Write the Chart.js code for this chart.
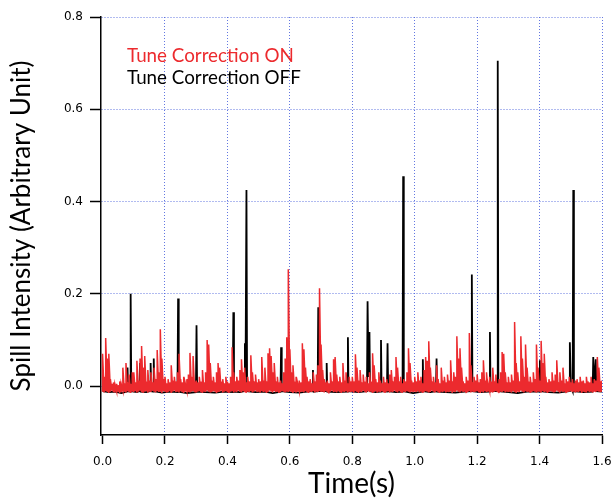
<!DOCTYPE html>
<html>
<head>
  <title>Spill Intensity</title>
  <script src="https://cdn.jsdelivr.net/npm/chart.js"></script>
  <style>
    html, body { margin: 0; padding: 0; background: #ffffff; }
  </style>
</head>
<body>
  <canvas id="spillChart" width="611" height="498"></canvas>

  <script>
    // tick labels
    const xTicks = [0, 0.2, 0.4, 0.6, 0.8, 1.0, 1.2, 1.4, 1.6];
    const yTicks = [0, 0.2, 0.4, 0.6, 0.8];
    const seriesLabels = ["Tune Correction ON", "Tune Correction OFF"];

    // Tune Correction ON: upper and lower envelope of the dense trace, every 0.005 s from 0.0 to 1.6
    const onStep = 0.005;
    const onHigh = [
      0.07, 0.02, 0.104, 0.06, 0.07, 0.015, 0.005, 0.008, 0.003, 0.005, 0.002, 0.01, 0.004, 0.04, 0.006, 0.05, 0.008, 0.025, 0.005, 0.03,
      0.03, 0.008, 0.055, 0.012, 0.06, 0.087, 0.04, 0.065, 0.01, 0.035, 0.012, 0.03, 0.008, 0.04, 0.015, 0.078, 0.03, 0.123, 0.06, 0.015,
      0.02, 0.006, 0.015, 0.008, 0.045, 0.012, 0.02, 0.01, 0.03, 0.07, 0.015, 0.008, 0.02, 0.006, 0.015, 0.025, 0.072, 0.02, 0.065, 0.01,
      0.012, 0.008, 0.02, 0.01, 0.035, 0.008, 0.03, 0.1, 0.09, 0.05, 0.012, 0.02, 0.008, 0.03, 0.05, 0.04, 0.01, 0.015, 0.006, 0.02,
      0.01, 0.006, 0.02, 0.084, 0.03, 0.01, 0.02, 0.012, 0.035, 0.058, 0.03, 0.04, 0.008, 0.02, 0.01, 0.067, 0.03, 0.01, 0.025, 0.008,
      0.015, 0.01, 0.063, 0.012, 0.04, 0.01, 0.071, 0.082, 0.065, 0.03, 0.05, 0.01, 0.02, 0.008, 0.012, 0.006, 0.03, 0.06, 0.106, 0.253,
      0.08, 0.03, 0.045, 0.01, 0.02, 0.006, 0.012, 0.008, 0.093, 0.08, 0.04, 0.02, 0.01, 0.015, 0.006, 0.03, 0.01, 0.025, 0.045, 0.212,
      0.09, 0.035, 0.015, 0.008, 0.012, 0.006, 0.03, 0.01, 0.058, 0.063, 0.025, 0.01, 0.02, 0.008, 0.05, 0.012, 0.03, 0.006, 0.02, 0.01,
      0.02, 0.01, 0.069, 0.04, 0.012, 0.035, 0.008, 0.025, 0.01, 0.02, 0.006, 0.03, 0.01, 0.071, 0.045, 0.015, 0.008, 0.03, 0.012, 0.006,
      0.02, 0.008, 0.015, 0.006, 0.025, 0.035, 0.01, 0.02, 0.063, 0.04, 0.01, 0.02, 0.006, 0.015, 0.01, 0.03, 0.082, 0.05, 0.012, 0.008,
      0.02, 0.01, 0.03, 0.012, 0.02, 0.006, 0.035, 0.063, 0.055, 0.097, 0.04, 0.01, 0.02, 0.008, 0.045, 0.015, 0.006, 0.04, 0.012, 0.02,
      0.008, 0.025, 0.012, 0.056, 0.01, 0.03, 0.02, 0.108, 0.06, 0.082, 0.04, 0.01, 0.006, 0.02, 0.012, 0.115, 0.045, 0.008, 0.02, 0.012,
      0.025, 0.008, 0.015, 0.03, 0.056, 0.012, 0.03, 0.006, 0.02, 0.01, 0.04, 0.01, 0.025, 0.006, 0.015, 0.03, 0.074, 0.07, 0.03, 0.008,
      0.02, 0.008, 0.025, 0.012, 0.139, 0.05, 0.03, 0.01, 0.108, 0.06, 0.02, 0.09, 0.04, 0.01, 0.02, 0.008, 0.03, 0.015, 0.09, 0.04,
      0.012, 0.098, 0.05, 0.07, 0.02, 0.008, 0.015, 0.01, 0.03, 0.012, 0.025, 0.056, 0.008, 0.03, 0.012, 0.04, 0.006, 0.015, 0.01, 0.02,
      0.008, 0.015, 0.006, 0.012, 0.015, 0.008, 0.02, 0.01, 0.012, 0.006, 0.02, 0.01, 0.008, 0.02, 0.006, 0.015, 0.012, 0.063, 0.04, 0.01,
      0.012
    ];
    const onLow = [
      -0.012, -0.014, -0.011, -0.013, -0.015, -0.012, -0.01, -0.013, -0.014, -0.011, -0.012, -0.015, -0.013, -0.01, -0.012, -0.014, -0.011, -0.013, -0.015, -0.012,
      -0.013, -0.011, -0.014, -0.012, -0.01, -0.013, -0.015, -0.012, -0.011, -0.014, -0.012, -0.013, -0.01, -0.012, -0.014, -0.011, -0.013, -0.012, -0.015, -0.011,
      -0.012, -0.014, -0.013, -0.011, -0.015, -0.012, -0.01, -0.013, -0.012, -0.014, -0.011, -0.013, -0.015, -0.012, -0.01, -0.013, -0.014, -0.012, -0.011, -0.013,
      -0.014, -0.012, -0.011, -0.013, -0.015, -0.012, -0.013, -0.01, -0.012, -0.014, -0.013, -0.011, -0.012, -0.015, -0.013, -0.012, -0.01, -0.014, -0.012, -0.011,
      -0.013, -0.015, -0.012, -0.011, -0.014, -0.012, -0.013, -0.01, -0.012, -0.014, -0.011, -0.013, -0.015, -0.012, -0.013, -0.011, -0.014, -0.012, -0.01, -0.013,
      -0.012, -0.014, -0.011, -0.013, -0.012, -0.015, -0.013, -0.01, -0.012, -0.014, -0.011, -0.013, -0.012, -0.015, -0.013, -0.011, -0.012, -0.014, -0.012, -0.013,
      -0.011, -0.013, -0.015, -0.012, -0.014, -0.012, -0.01, -0.013, -0.012, -0.014, -0.011, -0.013, -0.015, -0.012, -0.013, -0.011, -0.014, -0.012, -0.013, -0.011,
      -0.013, -0.012, -0.014, -0.011, -0.013, -0.016, -0.012, -0.01, -0.013, -0.012, -0.014, -0.011, -0.013, -0.015, -0.012, -0.013, -0.011, -0.014, -0.012, -0.013,
      -0.012, -0.014, -0.011, -0.013, -0.015, -0.012, -0.013, -0.01, -0.012, -0.014, -0.011, -0.013, -0.012, -0.015, -0.013, -0.011, -0.014, -0.012, -0.013, -0.011,
      -0.013, -0.015, -0.012, -0.011, -0.014, -0.012, -0.013, -0.01, -0.012, -0.014, -0.011, -0.013, -0.015, -0.012, -0.013, -0.011, -0.012, -0.014, -0.012, -0.013,
      -0.012, -0.013, -0.011, -0.014, -0.012, -0.015, -0.013, -0.011, -0.012, -0.014, -0.013, -0.01, -0.012, -0.014, -0.011, -0.013, -0.015, -0.012, -0.013, -0.011,
      -0.014, -0.012, -0.013, -0.011, -0.015, -0.012, -0.013, -0.01, -0.012, -0.014, -0.011, -0.013, -0.012, -0.015, -0.013, -0.011, -0.014, -0.012, -0.013, -0.012,
      -0.011, -0.013, -0.015, -0.012, -0.014, -0.011, -0.013, -0.012, -0.01, -0.013, -0.014, -0.012, -0.011, -0.013, -0.015, -0.012, -0.013, -0.011, -0.014, -0.012,
      -0.013, -0.012, -0.014, -0.011, -0.013, -0.015, -0.012, -0.013, -0.01, -0.012, -0.014, -0.011, -0.013, -0.012, -0.015, -0.013, -0.011, -0.012, -0.014, -0.012,
      -0.012, -0.014, -0.011, -0.013, -0.012, -0.015, -0.013, -0.011, -0.012, -0.014, -0.013, -0.01, -0.012, -0.014, -0.011, -0.013, -0.012, -0.015, -0.013, -0.012,
      -0.011, -0.013, -0.012, -0.014, -0.012, -0.013, -0.011, -0.015, -0.012, -0.013, -0.014, -0.011, -0.013, -0.012, -0.014, -0.012, -0.013, -0.011, -0.012, -0.013,
      -0.012
    ];

    // Tune Correction OFF: flat baseline with narrow spikes
    const offTimes = [
      0.000, 0.020, 0.040, 0.060, 0.078, 0.080, 0.082, 0.088, 0.090, 0.092,
      0.110, 0.118, 0.120, 0.122, 0.140, 0.152, 0.154, 0.156, 0.162, 0.164,
      0.166, 0.190, 0.215, 0.240, 0.242, 0.244, 0.270, 0.299, 0.301, 0.303,
      0.330, 0.360, 0.390, 0.417, 0.419, 0.421, 0.440, 0.454, 0.456, 0.458,
      0.461, 0.463, 0.490, 0.520, 0.545, 0.570, 0.572, 0.574, 0.600, 0.630,
      0.655, 0.672, 0.674, 0.676, 0.689, 0.691, 0.693, 0.716, 0.718, 0.720,
      0.750, 0.784, 0.786, 0.788, 0.820, 0.847, 0.849, 0.852, 0.855, 0.857,
      0.875, 0.890, 0.892, 0.894, 0.911, 0.913, 0.915, 0.940, 0.961, 0.963,
      0.965, 0.995, 1.024, 1.026, 1.028, 1.050, 1.068, 1.070, 1.072, 1.100,
      1.130, 1.160, 1.181, 1.183, 1.185, 1.210, 1.239, 1.241, 1.243, 1.264,
      1.266, 1.268, 1.300, 1.330, 1.360, 1.399, 1.401, 1.403, 1.430, 1.460,
      1.495, 1.497, 1.500, 1.506, 1.508, 1.510, 1.540, 1.570, 1.572, 1.575,
      1.580, 1.582, 1.600
    ];
    const offValues = [
      -0.011, -0.013, -0.012, -0.015, -0.012, 0.04, -0.011, -0.012, 0.20, -0.011,
      -0.013, -0.011, 0.05, -0.012, -0.013, -0.011, 0.05, -0.011, -0.012, 0.06,
      -0.011, -0.014, -0.012, -0.013, 0.19, -0.012, -0.015, -0.013, 0.132, -0.012,
      -0.013, -0.014, -0.012, -0.013, 0.16, -0.012, -0.013, -0.011, 0.093, 0.02,
      0.425, -0.011, -0.013, -0.012, -0.015, -0.012, 0.084, -0.011, -0.013, -0.014,
      -0.012, -0.011, 0.035, -0.012, -0.011, 0.171, -0.011, -0.011, 0.05, -0.012,
      -0.013, -0.012, 0.106, -0.011, -0.013, -0.011, 0.184, 0.02, 0.117, -0.011,
      -0.013, -0.012, 0.10, -0.011, -0.012, 0.093, -0.011, -0.013, -0.012, 0.455,
      -0.011, -0.015, -0.012, 0.058, -0.011, -0.013, -0.011, 0.06, -0.012, -0.013,
      -0.014, -0.012, -0.011, 0.242, -0.011, -0.013, -0.012, 0.117, -0.011, -0.011,
      0.705, -0.011, -0.013, -0.015, -0.012, -0.012, 0.056, -0.011, -0.013, -0.014,
      -0.011, 0.095, 0.0, -0.011, 0.425, -0.011, -0.013, -0.012, 0.063, 0.0,
      0.058, -0.011, -0.012
    ];

    const onColor = "#ec2a2e";
    const offColor = "#000000";
    const gridColor = "rgba(70, 95, 220, 0.85)";

    // each sample is drawn as a low-to-high stroke so the dense trace fills in
    const onData = [];
    onHigh.forEach((h, i) => {
      onData.push({ x: i * onStep, y: onLow[i] });
      onData.push({ x: i * onStep, y: h });
    });
    const offData = offTimes.map((t, i) => ({ x: t, y: offValues[i] }));

    // plain text legend, no swatches
    const textLegend = {
      id: "textLegend",
      afterDraw(chart) {
        const ctx = chart.ctx;
        ctx.save();
        ctx.font = "18.8px Lato";
        ctx.textBaseline = "alphabetic";
        ctx.textAlign = "left";
        ctx.fillStyle = onColor;
        ctx.fillText(seriesLabels[0], 127, 62);
        ctx.fillStyle = offColor;
        ctx.fillText(seriesLabels[1], 127, 83.5);
        ctx.restore();
      }
    };

    new Chart(document.getElementById("spillChart").getContext("2d"), {
      type: "line",
      data: {
        datasets: [
          {
            label: seriesLabels[0],
            data: onData,
            borderColor: onColor,
            borderWidth: 1.5,
            pointRadius: 0,
            tension: 0,
            order: 0
          },
          {
            label: seriesLabels[1],
            data: offData,
            borderColor: offColor,
            borderWidth: 1.8,
            pointRadius: 0,
            tension: 0,
            order: 1
          }
        ]
      },
      options: {
        responsive: false,
        animation: false,
        layout: { padding: { top: 17, right: 9, left: 0, bottom: 0 } },
        plugins: {
          legend: { display: false },
          tooltip: { enabled: false }
        },
        scales: {
          x: {
            type: "linear",
            min: -0.005,
            max: 1.6,
            afterBuildTicks: (scale) => { scale.ticks = xTicks.map(v => ({ value: v })); },
            afterFit: (scale) => { scale.height = 63; scale.paddingLeft = 0; scale.paddingRight = 0; },
            ticks: {
              callback: (v) => Number(v).toFixed(1),
              color: "#000",
              font: { family: "DejaVu Sans", size: 12 },
              padding: 11,
              maxRotation: 0
            },
            grid: {
              color: (c) => (c.tick && c.tick.value === 0 ? "rgba(0,0,0,0)" : gridColor),
              lineWidth: 1,
              drawTicks: true,
              tickLength: 9,
              tickColor: "#000",
              tickWidth: 1.5
            },
            border: { display: true, color: "#000", width: 1.5, dash: [1, 2] },
            title: {
              display: true,
              text: "Time(s)",
              color: "#000",
              font: { family: "Lato", size: 28, lineHeight: 1.0 },
              padding: { top: 0, bottom: 0 }
            }
          },
          y: {
            type: "linear",
            min: -0.106,
            max: 0.8,
            afterBuildTicks: (scale) => { scale.ticks = yTicks.map(v => ({ value: v })); },
            afterFit: (scale) => { scale.width = 101; },
            ticks: {
              callback: (v) => Number(v).toFixed(1),
              color: "#000",
              font: { family: "DejaVu Sans", size: 12 },
              padding: 7
            },
            grid: {
              color: gridColor,
              lineWidth: 1,
              drawTicks: true,
              tickLength: 11,
              tickColor: "#000",
              tickWidth: 1.5
            },
            border: { display: true, color: "#000", width: 1.5, dash: [1, 2] },
            title: {
              display: true,
              text: "Spill Intensity (Arbitrary Unit)",
              color: "#000",
              font: { family: "Lato", size: 26, lineHeight: 1.0 },
              padding: { top: 9, bottom: 0 }
            }
          }
        }
      },
      plugins: [textLegend]
    });
  </script>
</body>
</html>
